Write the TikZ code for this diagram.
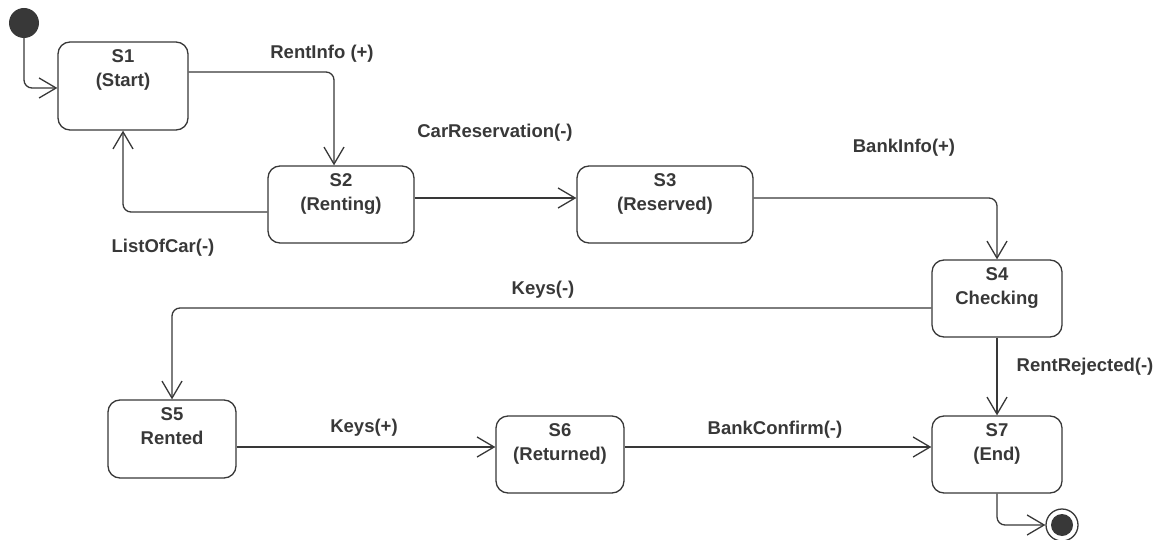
\documentclass[tikz,border=0pt]{standalone}
\usepackage{fontspec}
\setmainfont{Liberation Sans}
\usetikzlibrary{arrows.meta}
\definecolor{ink}{HTML}{383838}
\begin{document}
\begin{tikzpicture}[x=1pt,y=-1pt,
  state/.style={draw=ink, line width=1.3pt, rounded corners=12pt, inner sep=0pt},
  stxt/.style={text=ink, font=\fontsize{18.5}{24.5}\selectfont\bfseries, align=center, anchor=north, inner sep=0pt},
  lbl/.style={text=ink, font=\fontsize{18.5}{22}\selectfont\bfseries, inner sep=0pt},
  edge/.style={draw=ink, line width=1.3pt, rounded corners=8pt, -{Straight Barb[length=17pt,width=20pt]}},
]
\useasboundingbox (0,0) rectangle (1161,540);

% pseudo states
\node[circle, fill=ink, minimum size=30pt, inner sep=0pt] (init) at (24,23) {};
\node[circle, draw=ink, line width=1.3pt, minimum size=32pt, inner sep=0pt] (fin) at (1062,525) {};
\node[circle, fill=ink, minimum size=22pt, inner sep=0pt] (fininner) at (1062,525) {};

% states
\node[state, minimum width=130pt, minimum height=88pt] (s1) at (123,86) {};
\node[state, minimum width=146pt, minimum height=77pt] (s2) at (341,204.5) {};
\node[state, minimum width=176pt, minimum height=77pt] (s3) at (665,204.5) {};
\node[state, minimum width=130pt, minimum height=77pt] (s4) at (997,298.5) {};
\node[state, minimum width=128pt, minimum height=78pt] (s5) at (172,439) {};
\node[state, minimum width=128pt, minimum height=77pt] (s6) at (560,454.5) {};
\node[state, minimum width=130pt, minimum height=77pt] (s7) at (997,454.5) {};

\node[stxt] (t1) at ([yshift=-8pt]s1.north) {S1\\(Start)};
\node[stxt] (t2) at ([yshift=-8pt]s2.north) {S2\\(Renting)};
\node[stxt] (t3) at ([yshift=-8pt]s3.north) {S3\\(Reserved)};
\node[stxt] (t4) at ([yshift=-8pt]s4.north) {S4\\Checking};
\node[stxt] (t5) at ([yshift=-8pt]s5.north) {S5\\Rented};
\node[stxt] (t6) at ([yshift=-8pt]s6.north) {S6\\(Returned)};
\node[stxt] (t7) at ([yshift=-8pt]s7.north) {S7\\(End)};

% transitions
\draw[edge] (init) |- (s1.west |- 0,88);
\draw[edge] (s1.east |- 0,72) -| (s2.north -| 334,0);
\draw[edge] (s2.west |- 0,212) -| (s1.south);
\draw[edge] (s2.east |- 0,198) -- (s3.west |- 0,198);
\draw[edge] (s3.east |- 0,198) -| (s4.north);
\draw[edge] (s4.west |- 0,308) -| (s5.north);
\draw[edge] (s4.south) -- (s7.north);
\draw[edge] (s5.east |- 0,447) -- (s6.west |- 0,447);
\draw[edge] (s6.east |- 0,447) -- (s7.west |- 0,447);
\draw[edge] (s7.south) |- (fin);

% labels
\node[lbl] (l1) at (322,54) {RentInfo (+)};
\node[lbl] (l2) at (163,248) {ListOfCar(-)};
\node[lbl] (l3) at (495,133) {CarReservation(-)};
\node[lbl] (l4) at (904,148) {BankInfo(+)};
\node[lbl] (l5) at (543,290) {Keys(-)};
\node[lbl] (l6) at (1085,367) {RentRejected(-)};
\node[lbl] (l7) at (364,428) {Keys(+)};
\node[lbl] (l8) at (775,430) {BankConfirm(-)};
\end{tikzpicture}
\end{document}
